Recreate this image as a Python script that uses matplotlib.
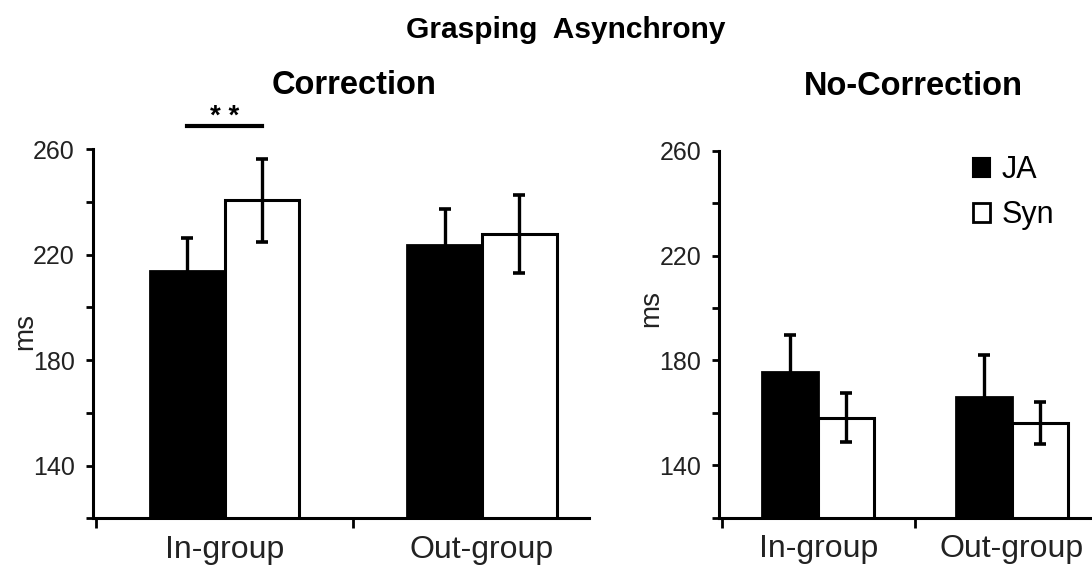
import matplotlib.pyplot as plt
from matplotlib.patches import Patch

plt.rcParams['font.family'] = ['Liberation Sans', 'DejaVu Sans']

# data
groups = ['In-group', 'Out-group']
series = ['JA', 'Syn']
corr_ja = [213.7, 223.8]
corr_ja_err = [12.6, 13.5]
corr_syn = [240.6, 227.8]
corr_syn_err = [15.9, 14.8]
nocorr_ja = [175.4, 165.9]
nocorr_ja_err = [14.3, 16.0]
nocorr_syn = [158.1, 156.2]
nocorr_syn_err = [9.3, 8.0]
ytick_vals = [120, 140, 160, 180, 200, 220, 240, 260]
ytick_labels = ['', '140', '', '180', '', '220', '', '260']

W = 0.29
fig = plt.figure(figsize=(10.92, 5.71), dpi=100)


def panel(ax, ja, ja_err, syn, syn_err, title, title_x, xmax, ms_x, ms_y):
    x = range(len(groups))
    xj = [i - W / 2 for i in x]
    xs = [i + W / 2 for i in x]
    ax.bar(xj, ja, W, color='black', edgecolor='black', linewidth=2, zorder=2)
    ax.bar(xs, syn, W, color='white', edgecolor='black', linewidth=2.2, zorder=2)
    ax.errorbar(xj, ja, yerr=ja_err, fmt='none', ecolor='black', elinewidth=2.4,
                capsize=4, capthick=2.6, zorder=3)
    ax.errorbar(xs, syn, yerr=syn_err, fmt='none', ecolor='black', elinewidth=2.4,
                capsize=4, capthick=2.6, zorder=3)
    ax.set_ylim(120, 260)
    ax.set_xlim(-0.512, xmax)
    for s in ['top', 'right']:
        ax.spines[s].set_visible(False)
    for s in ['left', 'bottom']:
        ax.spines[s].set_linewidth(2.2)
    ax.set_yticks(ytick_vals)
    ax.set_yticklabels(ytick_labels, fontsize=18, color='#222222')
    ax.tick_params(axis='y', direction='out', length=5, width=2, pad=8)
    ax.set_xticks([-0.5, 0.5])
    ax.set_xticklabels(['', ''])
    ax.tick_params(axis='x', which='major', direction='out', length=7, width=2)
    ax.set_xticks([0, 1], minor=True)
    ax.set_xticklabels(groups, minor=True, fontsize=23, color='#222222')
    ax.tick_params(axis='x', which='minor', length=0, pad=12)
    ax.set_ylabel('ms', fontsize=20, color='#222222')
    ax.yaxis.set_label_coords(ms_x, ms_y)
    ax.set_title(title, fontsize=23.5, fontweight='bold', pad=40, x=title_x)


ax1 = fig.add_axes([0.0852, 0.0923, 0.4542, 0.6462])
panel(ax1, corr_ja, corr_ja_err, corr_syn, corr_syn_err, 'Correction', 0.526,
      1.416, -0.111, 0.505)

ax2 = fig.add_axes([0.6587, 0.0933, 0.3563, 0.6428])
panel(ax2, nocorr_ja, nocorr_ja_err, nocorr_syn, nocorr_syn_err, 'No-Correction', 0.5,
      1.5, -0.141, 0.57)

# significance marker
ax1.plot([-W / 2, W / 2], [268.8, 268.8], color='black', lw=3, clip_on=False)
ax1.text(0, 272.2, '* *', ha='center', va='center', fontsize=20, fontweight='bold')

handles = [Patch(facecolor='black', edgecolor='black', linewidth=1.5),
           Patch(facecolor='white', edgecolor='black', linewidth=2)]
fig.legend(handles, series, loc='upper left', bbox_to_anchor=(0.877, 0.755),
           frameon=False, fontsize=22, handlelength=0.55, handleheight=0.55,
           handletextpad=0.4, labelspacing=0.5, borderpad=0)

fig.text(0.518, 0.947, 'Grasping  Asynchrony', fontsize=21.5, fontweight='bold',
         ha='center', va='center')

fig.savefig('out.png', dpi=100)
